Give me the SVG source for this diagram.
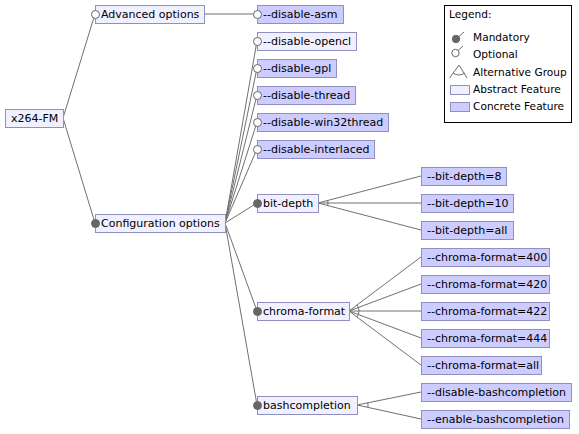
<svg xmlns="http://www.w3.org/2000/svg" width="579" height="434" viewBox="0 0 579 434">
<style>
text{font-family:"DejaVu Sans",sans-serif;font-size:11px;fill:#000}
.lg{font-size:10.6px}
.ab{fill:#f0f0ff;stroke:#8f8fc0;stroke-width:1}
.co{fill:#ccccff;stroke:#8f8fc0;stroke-width:1}
.ln{stroke:#707070;stroke-width:1;fill:none}
.man{fill:#666;stroke:#666;stroke-width:1}
.opt{fill:#fff;stroke:#666;stroke-width:1}
</style>
<rect width="579" height="434" fill="#fff"/>
<g id="connectors">
<line class="ln" x1="63" y1="118" x2="95" y2="14"/>
<line class="ln" x1="63" y1="118" x2="95" y2="223"/>
<line class="ln" x1="204" y1="14" x2="257" y2="14"/>
<line class="ln" x1="225" y1="223" x2="257" y2="41"/>
<line class="ln" x1="225" y1="223" x2="257" y2="68"/>
<line class="ln" x1="225" y1="223" x2="257" y2="95"/>
<line class="ln" x1="225" y1="223" x2="257" y2="122"/>
<line class="ln" x1="225" y1="223" x2="257" y2="149"/>
<line class="ln" x1="225" y1="223" x2="257" y2="203"/>
<line class="ln" x1="225" y1="223" x2="257" y2="311"/>
<line class="ln" x1="225" y1="223" x2="257" y2="405"/>
<line class="ln" x1="318" y1="203" x2="421" y2="176"/>
<line class="ln" x1="318" y1="203" x2="421" y2="203"/>
<line class="ln" x1="318" y1="203" x2="421" y2="230"/>
<path class="ln" d="M327.7 200.5 A10 10 0 0 1 327.7 205.5"/>
<line class="ln" x1="349" y1="311" x2="421" y2="257"/>
<line class="ln" x1="349" y1="311" x2="421" y2="284"/>
<line class="ln" x1="349" y1="311" x2="421" y2="311"/>
<line class="ln" x1="349" y1="311" x2="421" y2="338"/>
<line class="ln" x1="349" y1="311" x2="421" y2="365"/>
<path class="ln" d="M357 305 A10 10 0 0 1 357 317"/>
<line class="ln" x1="357" y1="405" x2="421" y2="392"/>
<line class="ln" x1="357" y1="405" x2="421" y2="419"/>
<path class="ln" d="M367.8 402.8 A11 11 0 0 1 367.8 407.4"/>
</g>
<g id="x264-FM"><rect class="ab" x="5.5" y="109.5" width="58" height="18"/><text x="11" y="122">x264-FM</text></g>
<g id="advanced-options"><rect class="ab" x="95.5" y="5.5" width="109" height="18"/><circle class="opt" cx="95.5" cy="14.5" r="4"/><text x="101" y="18">Advanced options</text></g>
<g id="disable-asm"><rect class="co" x="257.5" y="5.5" width="86" height="18"/><circle class="opt" cx="257.5" cy="14.5" r="4"/><text x="263" y="18">--disable-asm</text></g>
<g id="disable-opencl"><rect class="ab" x="257.5" y="32.5" width="99" height="18"/><circle class="opt" cx="257.5" cy="41.5" r="4"/><text x="263" y="45">--disable-opencl</text></g>
<g id="disable-gpl"><rect class="co" x="257.5" y="59.5" width="79" height="18"/><circle class="opt" cx="257.5" cy="68.5" r="4"/><text x="263" y="72">--disable-gpl</text></g>
<g id="disable-thread"><rect class="co" x="257.5" y="86.5" width="98" height="18"/><circle class="opt" cx="257.5" cy="95.5" r="4"/><text x="263" y="99">--disable-thread</text></g>
<g id="disable-win32thread"><rect class="co" x="257.5" y="113.5" width="131" height="18"/><circle class="opt" cx="257.5" cy="122.5" r="4"/><text x="263" y="126">--disable-win32thread</text></g>
<g id="disable-interlaced"><rect class="co" x="257.5" y="140.5" width="117" height="18"/><circle class="opt" cx="257.5" cy="149.5" r="4"/><text x="263" y="153">--disable-interlaced</text></g>
<g id="configuration-options"><rect class="ab" x="95.5" y="214.5" width="130" height="18"/><circle class="man" cx="95.5" cy="223.5" r="4"/><text x="101" y="227">Configuration options</text></g>
<g id="bit-depth"><rect class="ab" x="257.5" y="194.5" width="61" height="18"/><circle class="man" cx="257.5" cy="203.5" r="4"/><text x="263" y="207">bit-depth</text></g>
<g id="chroma-format"><rect class="ab" x="257.5" y="302.5" width="92" height="18"/><circle class="man" cx="257.5" cy="311.5" r="4"/><text x="263" y="315">chroma-format</text></g>
<g id="bashcompletion"><rect class="ab" x="257.5" y="396.5" width="100" height="18"/><circle class="man" cx="257.5" cy="405.5" r="4"/><text x="263" y="409">bashcompletion</text></g>
<g id="bit-depth-8"><rect class="co" x="421.5" y="167.5" width="85" height="18"/><text x="427" y="180">--bit-depth=8</text></g>
<g id="bit-depth-10"><rect class="co" x="421.5" y="194.5" width="92" height="18"/><text x="427" y="207">--bit-depth=10</text></g>
<g id="bit-depth-all"><rect class="co" x="421.5" y="221.5" width="92" height="18"/><text x="427" y="234">--bit-depth=all</text></g>
<g id="chroma-format-400"><rect class="co" x="421.5" y="248.5" width="128" height="18"/><text x="427" y="261">--chroma-format=400</text></g>
<g id="chroma-format-420"><rect class="co" x="421.5" y="275.5" width="128" height="18"/><text x="427" y="288">--chroma-format=420</text></g>
<g id="chroma-format-422"><rect class="co" x="421.5" y="302.5" width="128" height="18"/><text x="427" y="315">--chroma-format=422</text></g>
<g id="chroma-format-444"><rect class="co" x="421.5" y="329.5" width="128" height="18"/><text x="427" y="342">--chroma-format=444</text></g>
<g id="chroma-format-all"><rect class="co" x="421.5" y="356.5" width="120" height="18"/><text x="427" y="369">--chroma-format=all</text></g>
<g id="disable-bashcompletion"><rect class="co" x="421.5" y="383.5" width="150" height="18"/><text x="427" y="396">--disable-bashcompletion</text></g>
<g id="enable-bashcompletion"><rect class="co" x="421.5" y="410.5" width="148" height="18"/><text x="427" y="423">--enable-bashcompletion</text></g>
<g id="legend">
<rect x="444.5" y="5.5" width="127" height="117" fill="#fff" stroke="#000" stroke-width="1"/>
<text class="lg" x="449" y="18">Legend:</text>
<line class="ln" x1="456" y1="39" x2="464" y2="32"/>
<circle class="man" cx="456" cy="39" r="3.7"/>
<text class="lg" x="473" y="41">Mandatory</text>
<line class="ln" x1="455.5" y1="53" x2="463" y2="46"/>
<circle class="opt" cx="455.5" cy="53" r="3.7"/>
<text class="lg" x="473" y="58">Optional</text>
<path class="ln" d="M449.5 78 L459 65 L467 78"/>
<path class="ln" d="M453 73 A10 10 0 0 0 465 73"/>
<text class="lg" x="473" y="76">Alternative Group</text>
<rect class="ab" x="450.5" y="85.5" width="19" height="9"/>
<text class="lg" x="473" y="93">Abstract Feature</text>
<rect class="co" x="450.5" y="102.5" width="19" height="9"/>
<text class="lg" x="473" y="110">Concrete Feature</text>
</g>
</svg>
